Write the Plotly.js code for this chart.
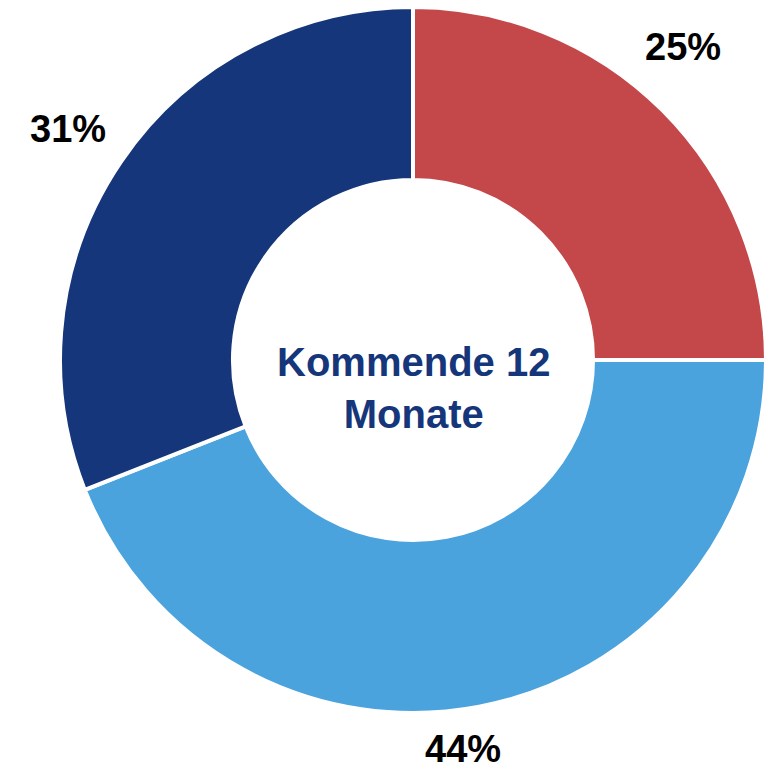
<!DOCTYPE html>
<html>
<head>
<meta charset="utf-8">
<script src="https://cdn.plot.ly/plotly-3.0.1.min.js"></script>
<style>html,body{margin:0;padding:0;background:#fff;}#chart{width:775px;height:772px;}</style>
</head>
<body>
<div id="chart"></div>
<script>
const categories = ["Kategorie A", "Kategorie B", "Kategorie C"];
const values = [25, 44, 31];
const colors = ["#C4474A", "#4BA3DE", "#15367A"];
const centerText = "Kommende 12<br>Monate";

// label placement (paper coords) for each slice's percentage label
const labelPos = [[0.8825, 0.943], [0.5715, -0.051], [0.012, 0.827]];

const total = values.reduce((a, b) => a + b, 0);
const labelFont = { family: "Liberation Sans, Arial, sans-serif", size: 38, color: "#000000", weight: "bold" };

const trace = {
  type: "pie",
  labels: categories,
  values: values,
  sort: false,
  direction: "clockwise",
  rotation: 0,
  hole: 0.51,
  marker: { colors: colors, line: { color: "#FFFFFF", width: 4 } },
  textinfo: "none",
  showlegend: false,
  hoverinfo: "none"
};

const annotations = values.map((v, i) => ({
  text: Math.round(v / total * 100) + "%",
  x: labelPos[i][0], y: labelPos[i][1],
  xref: "paper", yref: "paper",
  xanchor: "center", yanchor: "middle",
  showarrow: false,
  font: labelFont
}));

annotations.push({
  text: centerText,
  x: 0.5, y: 0.46,
  xref: "paper", yref: "paper",
  xanchor: "center", yanchor: "middle",
  showarrow: false,
  font: { family: "Liberation Sans, Arial, sans-serif", size: 40, color: "#15367A", weight: "bold" }
});

const layout = {
  width: 775,
  height: 772,
  margin: { l: 60, r: 9, t: 7, b: 59 },
  paper_bgcolor: "#FFFFFF",
  showlegend: false,
  annotations: annotations
};

Plotly.newPlot("chart", [trace], layout, { displayModeBar: false, staticPlot: true });
</script>
</body>
</html>
